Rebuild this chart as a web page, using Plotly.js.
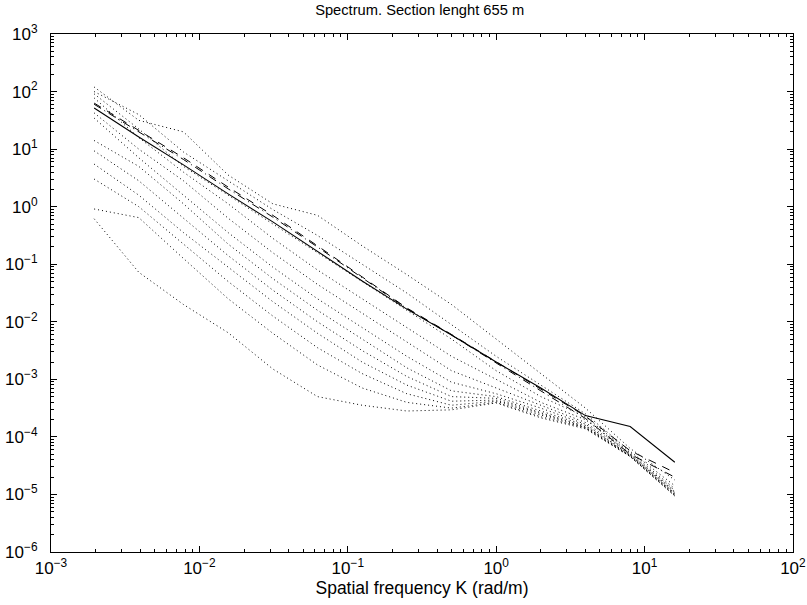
<!DOCTYPE html>
<html>
<head>
<meta charset="utf-8">
<script src="https://cdn.plot.ly/plotly-3.0.1.min.js"></script>
<style>html,body{margin:0;padding:0;background:#fff;}#chart{width:807px;height:605px;}</style>
</head>
<body>
<div id="chart"></div>
<script>
// Spatial frequency K (rad/m), octave bands
const K = [0.001953, 0.003906, 0.007813, 0.015625, 0.03125, 0.0625, 0.125, 0.25, 0.5, 1, 2, 4, 8, 16];

// log10 of spectrum values
const solidLog  = [1.715, 1.21, 0.726, 0.222, -0.264, -0.78, -1.29, -1.78, -2.23, -2.70, -3.15, -3.63, -3.82, -4.44];
const dashedLog = [1.80, 1.33, 0.85, 0.34, -0.15, -0.68, -1.22, -1.76, -2.22, -2.70, -3.17, -3.64, -4.24, -4.62];
const dashDotLog = [1.78, 1.30, 0.82, 0.31, -0.18, -0.70, -1.24, -1.77, -2.23, -2.72, -3.20, -3.68, -4.30, -4.70];

const dotted1  = [2.08, 1.50, 1.30, 0.55, 0.05, -0.15, -0.68, -1.18, -1.70, -2.30, -2.90, -3.50, -4.20, -4.75];
const dotted2  = [2.00, 1.60, 0.95, 0.45, -0.05, -0.50, -1.00, -1.50, -2.05, -2.60, -3.10, -3.60, -4.25, -4.85];
const dotted3  = [1.96, 1.35, 0.70, 0.20, -0.30, -0.80, -1.30, -1.80, -2.30, -2.85, -3.30, -3.65, -4.28, -4.90];
const dotted4  = [1.89, 1.20, 0.60, 0.05, -0.55, -1.10, -1.60, -2.10, -2.60, -3.00, -3.40, -3.70, -4.30, -4.93];
const dotted5  = [1.63, 1.00, 0.45, -0.20, -0.80, -1.35, -1.85, -2.35, -2.85, -3.15, -3.45, -3.75, -4.30, -4.95];
const dotted6  = [1.54, 0.85, 0.20, -0.45, -1.05, -1.60, -2.10, -2.60, -3.05, -3.25, -3.50, -3.78, -4.32, -4.97];
const dotted7  = [1.15, 0.70, 0.05, -0.65, -1.25, -1.80, -2.30, -2.80, -3.20, -3.30, -3.55, -3.80, -4.32, -4.98];
const dotted8  = [0.97, 0.45, -0.20, -0.85, -1.45, -2.00, -2.50, -2.95, -3.30, -3.33, -3.58, -3.82, -4.33, -5.00];
const dotted9  = [0.74, 0.20, -0.45, -1.05, -1.65, -2.20, -2.70, -3.10, -3.38, -3.36, -3.60, -3.83, -4.33, -5.00];
const dotted10 = [0.48, 0.00, -0.65, -1.30, -1.90, -2.45, -2.90, -3.25, -3.45, -3.38, -3.62, -3.84, -4.34, -5.02];
const dotted11 = [-0.04, -0.19, -0.90, -1.60, -2.20, -2.75, -3.15, -3.40, -3.50, -3.40, -3.65, -3.85, -4.34, -5.02];
const dotted12 = [-0.21, -1.14, -1.70, -2.19, -2.82, -3.30, -3.45, -3.55, -3.53, -3.41, -3.67, -3.86, -4.34, -5.03];

const dottedSets = [dotted1, dotted2, dotted3, dotted4, dotted5, dotted6, dotted7, dotted8, dotted9, dotted10, dotted11, dotted12];

// tick decades and labels
const xDecades = [-3, -2, -1, 0, 1, 2];
const yDecades = [-6, -5, -4, -3, -2, -1, 0, 1, 2, 3];
const xTickText = ['10<sup>−3</sup>', '10<sup>−2</sup>', '10<sup>−1</sup>', '10<sup>0</sup>', '10<sup>1</sup>', '10<sup>2</sup>'];
const yTickText = ['10<sup>−6</sup>', '10<sup>−5</sup>', '10<sup>−4</sup>', '10<sup>−3</sup>', '10<sup>−2</sup>', '10<sup>−1</sup>', '10<sup>0</sup>', '10<sup>1</sup>', '10<sup>2</sup>', '10<sup>3</sup>'];

const title = 'Spectrum. Section lenght 655 m';
const xTitle = 'Spatial frequency K (rad/m)';

const toVal = arr => arr.map(v => Math.pow(10, v));
const minorVals = decs => {
  const out = [];
  decs.slice(0, -1).forEach(d => { for (let m = 2; m <= 9; m++) out.push(m * Math.pow(10, d)); });
  return out;
};
const FONT = 'Liberation Sans, Arial, Helvetica, sans-serif';

const traces = [];
dottedSets.forEach(d => traces.push({
  x: K, y: toVal(d), type: 'scatter', mode: 'lines',
  line: {color: '#000', width: 1, dash: '1px,3px'}, hoverinfo: 'skip'
}));
traces.push({x: K, y: toVal(dashDotLog), type: 'scatter', mode: 'lines',
  line: {color: '#000', width: 1, dash: '8px,4px,1px,4px'}});
traces.push({x: K, y: toVal(dashedLog), type: 'scatter', mode: 'lines',
  line: {color: '#000', width: 1, dash: '8px,7px'}});
traces.push({x: K, y: toVal(solidLog), type: 'scatter', mode: 'lines',
  line: {color: '#000', width: 1.1}});

const axisCommon = {
  type: 'log', showgrid: false, zeroline: false,
  showline: true, linecolor: '#000', linewidth: 1, mirror: 'ticks',
  ticks: 'inside', ticklen: 6, tickwidth: 1, tickcolor: '#000',
  tickmode: 'array',
  tickfont: {family: FONT, size: 17, color: '#000'},
  minor: {ticks: 'inside', ticklen: 3, tickwidth: 1, tickcolor: '#000', tickmode: 'array', showgrid: false}
};

const layout = {
  width: 807, height: 605,
  margin: {l: 51, r: 14, t: 34, b: 53},
  paper_bgcolor: '#fff', plot_bgcolor: '#fff',
  showlegend: false,
  title: {text: title, font: {family: FONT, size: 14.7, color: '#000'}, x: 0.52, xanchor: 'center', y: 0.993, yanchor: 'top'},
  xaxis: Object.assign({}, axisCommon, {range: [-3, 2.0005],
    tickvals: xDecades.map(d => Math.pow(10, d)), ticktext: xTickText,
    minor: Object.assign({}, axisCommon.minor, {tickvals: minorVals(xDecades)}),
    ticklabelstandoff: 1,
    title: {text: xTitle, font: {family: FONT, size: 17.5, color: '#000'}, standoff: 2}}),
  yaxis: Object.assign({}, axisCommon, {range: [-6, 3.0005],
    tickvals: yDecades.map(d => Math.pow(10, d)), ticktext: yTickText,
    minor: Object.assign({}, axisCommon.minor, {tickvals: minorVals(yDecades)}),
    ticklabelstandoff: 9})
};

Plotly.newPlot('chart', traces, layout, {staticPlot: true, displayModeBar: false});
</script>
</body>
</html>
